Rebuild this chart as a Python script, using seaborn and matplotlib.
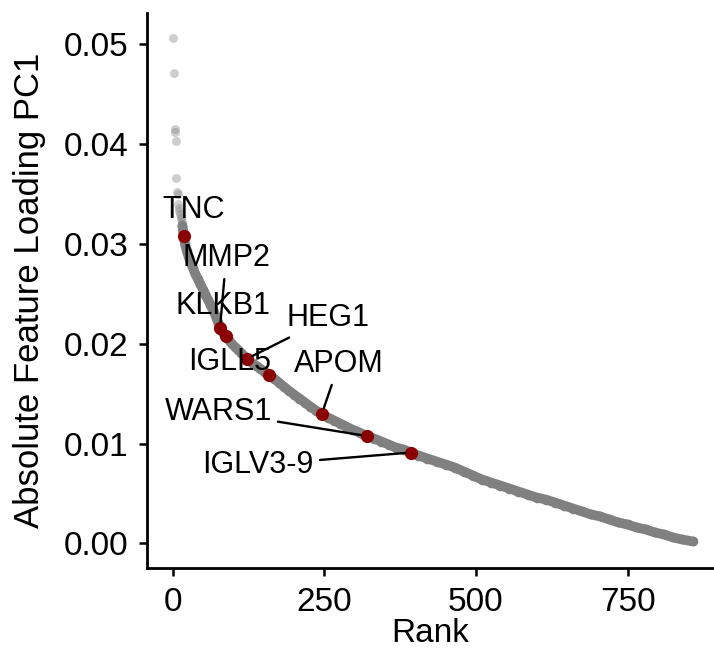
import matplotlib
matplotlib.use('Agg')
import matplotlib.pyplot as plt
import seaborn as sns
import pandas as pd

sns.set_style('ticks')
plt.rcParams['font.family'] = ['Liberation Sans', 'DejaVu Sans']
plt.rcParams['text.color'] = 'black'
plt.rcParams['axes.labelcolor'] = 'black'

# values (rank vs absolute loading on PC1)
rank = [1, 2, 3, 4, 5, 6, 7, 8, 9, 10, 11, 12, 13, 14, 15, 16, 17,
        18, 20, 23, 26, 29, 33, 37, 41, 45, 50, 54, 58, 62, 66, 70, 74,
        78, 82, 87, 92, 97, 102, 107, 112, 117, 123, 130, 137, 144, 151,
        159, 167, 175, 183, 191, 200, 209, 218, 227, 236, 246, 256, 266,
        276, 286, 296, 308, 320, 332, 344, 356, 368, 381, 393, 405, 420,
        435, 450, 465, 480, 495, 510, 525, 540, 555, 570, 585, 600, 615,
        630, 645, 660, 675, 690, 705, 720, 735, 750, 765, 780, 795, 810,
        825, 840, 858]
loading = [0.0506, 0.0471, 0.0415, 0.0412, 0.0403, 0.0366, 0.0352, 0.0350,
           0.0340, 0.0336, 0.0333, 0.0330, 0.0327, 0.0325, 0.0322, 0.0318,
           0.0313,
           0.0308, 0.0300, 0.0293, 0.0287, 0.0282, 0.0276, 0.0270, 0.0265,
           0.0260, 0.0254, 0.0249, 0.0244, 0.0239, 0.0234, 0.0229, 0.0222,
           0.0216, 0.0212, 0.0208, 0.0204, 0.0200, 0.0197, 0.0194, 0.0191,
           0.0188, 0.0185, 0.0181, 0.0178, 0.0175, 0.0172, 0.0169, 0.0165,
           0.0161, 0.0157, 0.0153, 0.0149, 0.0145, 0.0141, 0.0137, 0.0133,
           0.0130, 0.0126, 0.0123, 0.0120, 0.0117, 0.0114, 0.0111, 0.01075,
           0.0105, 0.0102, 0.0099, 0.0096, 0.0094, 0.0091, 0.0088, 0.0085,
           0.0082, 0.0079, 0.0076, 0.0072, 0.0068, 0.0064, 0.0061, 0.0058,
           0.0055, 0.0052, 0.0049, 0.0046, 0.0044, 0.0041, 0.0038, 0.0035,
           0.0032, 0.0029, 0.0027, 0.0024, 0.0021, 0.0019, 0.0016, 0.0014,
           0.0011, 0.0009, 0.0006, 0.0004, 0.0002]

genes = ['TNC', 'MMP2', 'KLKB1', 'HEG1', 'IGLL5', 'APOM', 'WARS1', 'IGLV3-9']
gene_rank = [18, 78, 87, 123, 159, 246, 320, 393]
gene_loading = [0.0308, 0.0216, 0.0208, 0.0185, 0.0169, 0.0130, 0.01075, 0.0091]

y_ticks = [0.00, 0.01, 0.02, 0.03, 0.04, 0.05]
y_tick_labels = ['0.00', '0.01', '0.02', '0.03', '0.04', '0.05']
x_ticks = [0, 250, 500, 750]

# label placement (repel-style), data coords, and whether a segment is drawn
label_pos = {
    'TNC': (35, 0.0334, False),
    'MMP2': (88, 0.02855, True),
    'KLKB1': (83, 0.02375, False),
    'HEG1': (256, 0.02255, True),
    'IGLL5': (93, 0.01815, False),
    'APOM': (274, 0.01795, True),
    'WARS1': (75, 0.01315, True),
    'IGLV3-9': (141, 0.00785, True),
}

df = pd.DataFrame({'rank': rank, 'loading': loading})
top = df[df['rank'] < 18]
curve = df[df['rank'] >= 16]
hl = pd.DataFrame({'gene': genes, 'rank': gene_rank, 'loading': gene_loading})

fig = plt.figure(figsize=(7.14, 6.55), dpi=100)
ax = fig.add_axes([0.2055, 0.1333, 0.7945, 0.8467])

grey = '#808080'
sns.scatterplot(data=top, x='rank', y='loading', color=grey, alpha=0.38,
                s=42, linewidth=0, ax=ax)
# overlapping points form a solid grey band in the original
sns.lineplot(data=curve, x='rank', y='loading', color=grey, lw=7,
             solid_capstyle='round', solid_joinstyle='round', ax=ax)
sns.scatterplot(data=curve, x='rank', y='loading', color=grey,
                s=48, linewidth=0, ax=ax)
sns.scatterplot(data=hl, x='rank', y='loading', color='darkred', s=90,
                linewidth=0, ax=ax, zorder=4)

for g, r, v in zip(genes, gene_rank, gene_loading):
    lx, ly, seg = label_pos[g]
    arrow = dict(arrowstyle='-', color='black', lw=1.7, shrinkA=2, shrinkB=4) if seg else None
    ax.annotate(g, xy=(r, v), xytext=(lx, ly), ha='center', va='center',
                fontsize=22, color='black', arrowprops=arrow, zorder=5)

ax.set_xlim(-42.9, 892.5)
ax.set_ylim(-0.00242, 0.05305)
ax.set_xticks(x_ticks)
ax.set_yticks(y_ticks)
ax.set_yticklabels(y_tick_labels)
ax.set_xlabel('Rank', fontsize=24, labelpad=0)
ax.set_ylabel('Absolute Feature Loading PC1', fontsize=25, labelpad=13)
ax.tick_params(length=6, width=1.8, labelsize=24, color='black',
               labelcolor='black')
ax.tick_params(axis='x', pad=8)
ax.tick_params(axis='y', pad=7)
sns.despine(ax=ax)
for sp in ['left', 'bottom']:
    ax.spines[sp].set_linewidth(2)
    ax.spines[sp].set_color('black')

fig.savefig('out.png', dpi=100)
